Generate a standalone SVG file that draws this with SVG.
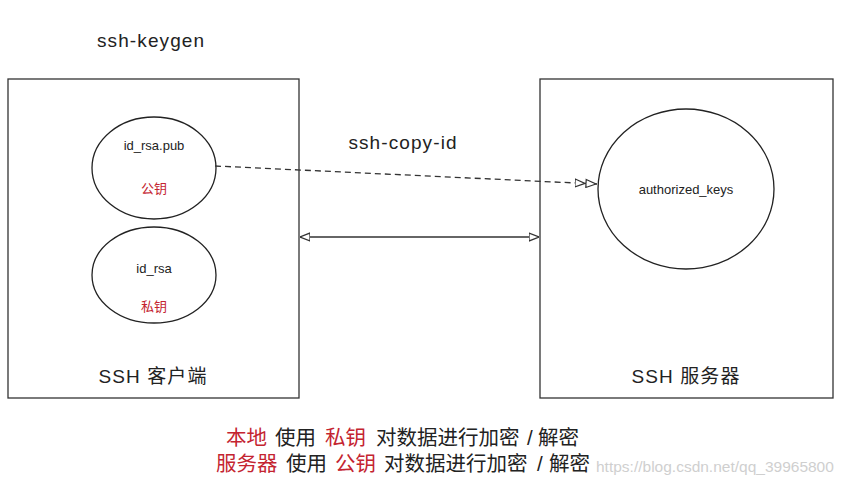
<svg xmlns="http://www.w3.org/2000/svg" width="845" height="485" viewBox="0 0 845 485">
<style>
.box{fill:none;stroke:#333;stroke-width:1.3}
.node{fill:#fff;stroke:#222;stroke-width:1.3}
.t{font-family:"Liberation Sans","Noto Sans CJK SC",sans-serif;fill:#222}
.big{font-size:19px;letter-spacing:1.1px}
.sm{font-size:13px}
.cn{font-size:20.5px}
.red{fill:#c42430}
.conn{fill:none;stroke:#333;stroke-width:1.3}
</style>
<defs>
<marker id="tri" viewBox="0 0 10 10" refX="10" refY="5" markerWidth="10" markerHeight="10" markerUnits="userSpaceOnUse" orient="auto-start-reverse">
<path d="M0,1 L10,5 L0,9 Z" fill="#fff" stroke="#333" stroke-width="1.3"/>
</marker>
<marker id="dtri" viewBox="0 0 22 10" refX="22" refY="5" markerWidth="22" markerHeight="10" markerUnits="userSpaceOnUse" orient="auto">
<path d="M0,1 L10,5 L0,9 Z M11,1 L21,5 L11,9 Z" fill="#fff" stroke="#333" stroke-width="1.2"/>
</marker>
</defs>
<rect width="845" height="485" fill="#fff"/>
<text class="t big" x="97" y="47">ssh-keygen</text>
<g id="client">
<rect class="box" x="8" y="79" width="291" height="319"/>
<text class="t big" x="153" y="383" text-anchor="middle">SSH 客户端</text>
</g>
<g id="server">
<rect class="box" x="540" y="79" width="293" height="319"/>
<text class="t big" x="686" y="383" text-anchor="middle">SSH 服务器</text>
</g>
<g id="pubkey">
<ellipse class="node" cx="154" cy="168" rx="62" ry="51"/>
<text class="t sm" x="154" y="150" text-anchor="middle">id_rsa.pub</text>
<text class="t sm red" x="154" y="193" text-anchor="middle">公钥</text>
</g>
<g id="privkey">
<ellipse class="node" cx="154" cy="275" rx="62" ry="48"/>
<text class="t sm" x="154" y="273" text-anchor="middle">id_rsa</text>
<text class="t sm red" x="154" y="311" text-anchor="middle">私钥</text>
</g>
<g id="authkeys">
<ellipse class="node" cx="686" cy="189" rx="88" ry="80"/>
<text class="t sm" x="686" y="194" text-anchor="middle">authorized_keys</text>
</g>
<g id="connectors">
<line class="conn" x1="215" y1="166" x2="597" y2="184" stroke-dasharray="6,4" marker-end="url(#dtri)"/>
<line class="conn" x1="300" y1="237" x2="539" y2="237" marker-start="url(#tri)" marker-end="url(#tri)"/>
<text class="t big" x="403" y="149" text-anchor="middle">ssh-copy-id</text>
</g>
<text x="596" y="472" font-family="Liberation Sans, sans-serif" font-size="15.5" fill="#cfcfcf">https://blog.csdn.net/qq_39965800</text>
<text class="t cn" y="445"><tspan class="red" x="226">本地</tspan><tspan x="275">使用</tspan><tspan class="red" x="325">私钥</tspan><tspan x="376">对数据进行加密</tspan><tspan x="527">/</tspan><tspan x="538">解密</tspan></text>
<text class="t cn" y="471"><tspan class="red" x="216">服务器</tspan><tspan x="286">使用</tspan><tspan class="red" x="335">公钥</tspan><tspan x="384">对数据进行加密</tspan><tspan x="537">/</tspan><tspan x="549">解密</tspan></text>
</svg>
